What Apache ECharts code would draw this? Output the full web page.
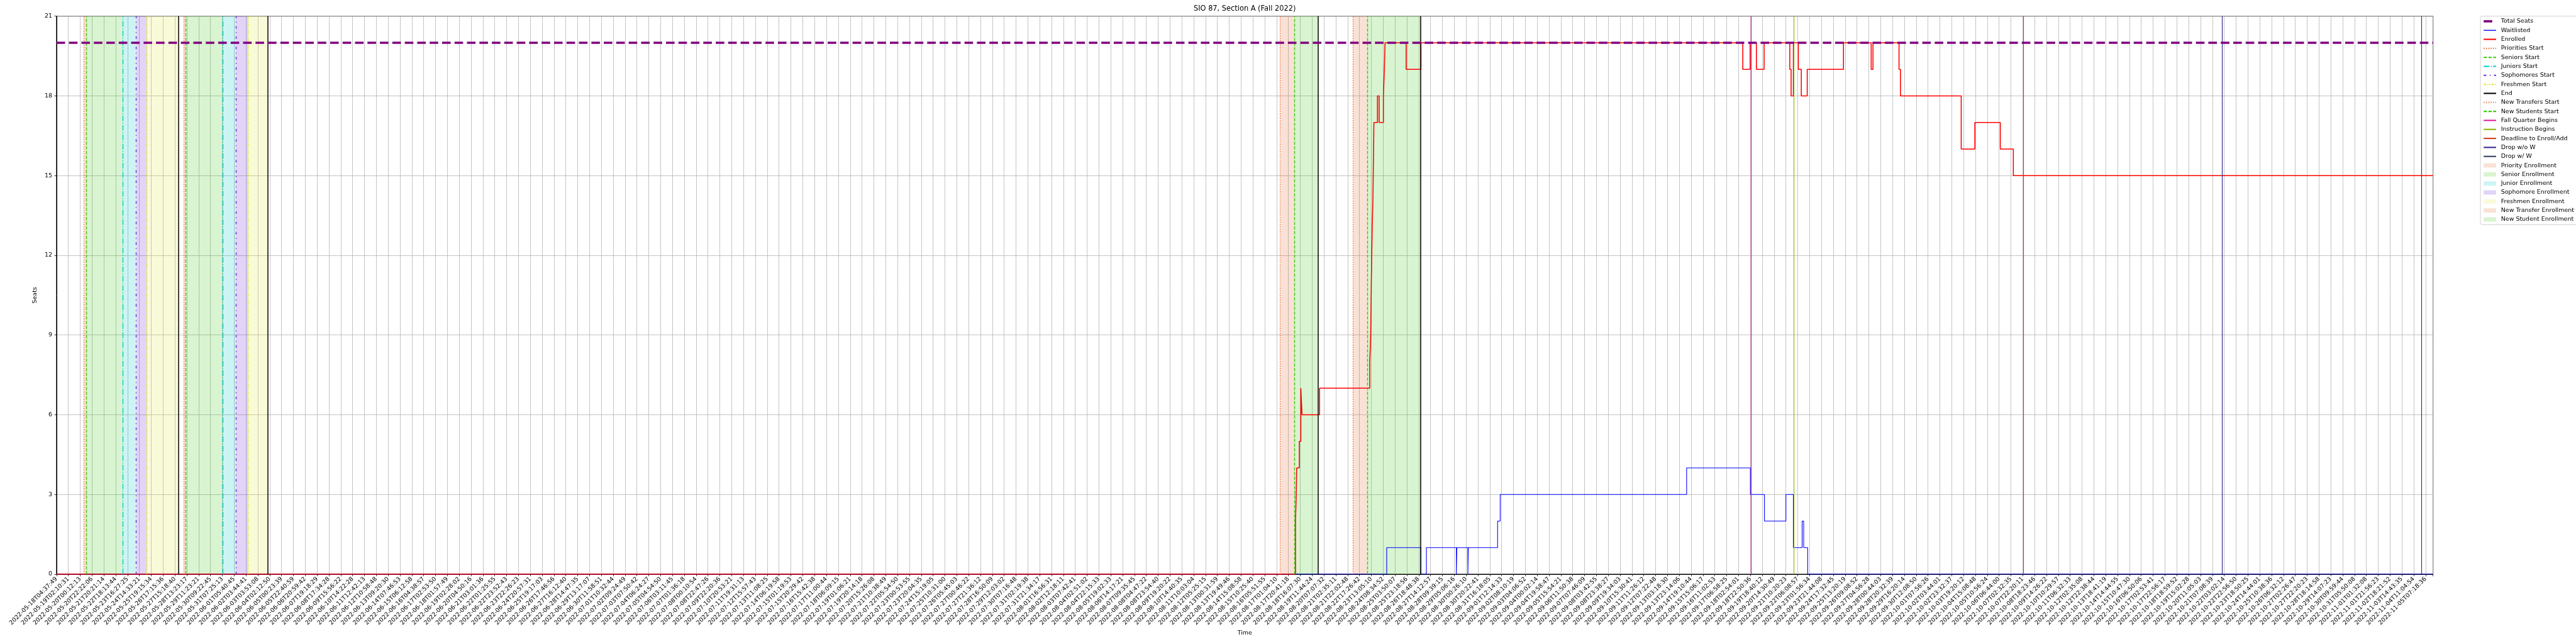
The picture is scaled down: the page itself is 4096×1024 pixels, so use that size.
<!DOCTYPE html>
<html><head><meta charset="utf-8">
<script src="https://cdn.jsdelivr.net/npm/echarts@6/dist/echarts.min.js"></script>
<style>html,body{margin:0;padding:0;background:#fff}#c{width:4096px;height:1024px}</style>
</head><body><div id="c"></div>
<script>
// ---------------- data ----------------
const tickLabels = [
"2022-05-18T04:37:49","2022-05-19T02:10:31","2022-05-20T00:12:13","2022-05-20T22:22:06","2022-05-21T20:21:14",
"2022-05-22T18:13:44","2022-05-23T16:27:25","2022-05-24T14:33:21","2022-05-25T19:15:34","2022-05-26T17:15:36",
"2022-05-27T15:18:40","2022-05-28T13:23:17","2022-05-29T11:23:21","2022-05-30T09:22:45","2022-05-31T07:25:13",
"2022-06-01T05:40:45","2022-06-02T03:44:41","2022-06-03T03:53:08","2022-06-04T02:12:50","2022-06-05T00:23:39",
"2022-06-05T22:40:59","2022-06-06T20:59:42","2022-06-07T19:18:29","2022-06-08T17:34:28","2022-06-09T15:56:22",
"2022-06-10T14:22:28","2022-06-11T12:42:13","2022-06-12T10:58:48","2022-06-13T09:20:30","2022-06-14T07:46:53",
"2022-06-15T06:12:58","2022-06-16T04:38:57","2022-06-17T02:53:50","2022-06-18T01:57:49","2022-06-19T02:28:02",
"2022-06-20T04:50:16","2022-06-21T03:01:36","2022-06-22T01:25:55","2022-06-22T23:52:43","2022-06-23T22:26:23",
"2022-06-24T20:57:31","2022-06-25T19:17:03","2022-06-26T17:46:56","2022-06-27T16:12:40","2022-06-28T14:47:35",
"2022-06-29T13:17:07","2022-06-30T11:58:51","2022-07-01T10:32:44","2022-07-02T09:24:49","2022-07-03T07:50:42",
"2022-07-04T06:24:27","2022-07-05T04:54:50","2022-07-06T03:11:45","2022-07-07T01:36:18","2022-07-08T00:10:54",
"2022-07-08T22:47:26","2022-07-09T22:20:36","2022-07-10T20:53:21","2022-07-11T19:31:13","2022-07-12T15:57:43",
"2022-07-13T11:08:25","2022-07-14T06:19:58","2022-07-15T01:19:53","2022-07-15T20:29:42","2022-07-16T15:42:38",
"2022-07-17T11:00:44","2022-07-18T06:09:15","2022-07-19T01:06:21","2022-07-19T20:14:18","2022-07-20T15:26:08",
"2022-07-21T10:38:49","2022-07-22T05:54:50","2022-07-23T00:53:55","2022-07-23T20:04:35","2022-07-24T15:19:05",
"2022-07-25T10:31:00","2022-07-26T05:45:03","2022-07-27T00:46:22","2022-07-27T21:36:12","2022-07-28T16:50:09",
"2022-07-29T12:03:02","2022-07-30T07:16:48","2022-07-31T02:19:38","2022-07-31T21:34:17","2022-08-01T16:56:31",
"2022-08-02T12:18:11","2022-08-03T07:42:41","2022-08-04T02:51:02","2022-08-04T22:15:33","2022-08-05T19:02:33",
"2022-08-06T14:17:21","2022-08-07T09:35:45","2022-08-08T04:47:22","2022-08-08T23:54:40","2022-08-09T19:20:22",
"2022-08-10T14:40:35","2022-08-11T10:03:04","2022-08-12T05:25:15","2022-08-13T00:31:59","2022-08-13T19:49:46",
"2022-08-14T15:08:58","2022-08-15T10:25:40","2022-08-16T05:51:55","2022-08-17T01:04:10","2022-08-17T20:41:18",
"2022-08-18T16:07:30","2022-08-19T11:44:24","2022-08-20T07:07:32","2022-08-21T02:35:11","2022-08-21T22:02:48",
"2022-08-22T17:26:42","2022-08-23T13:05:10","2022-08-24T08:34:52","2022-08-25T03:50:07","2022-08-25T23:18:56",
"2022-08-26T18:48:38","2022-08-27T14:12:57","2022-08-28T09:39:15","2022-08-29T05:06:16","2022-08-30T00:26:10",
"2022-08-30T20:22:41","2022-08-31T16:18:05","2022-09-01T12:14:33","2022-09-02T08:10:19","2022-09-03T04:06:52",
"2022-09-04T00:02:14","2022-09-04T19:58:47","2022-09-05T15:54:21","2022-09-06T11:50:38","2022-09-07T07:46:09",
"2022-09-08T03:42:55","2022-09-08T23:38:27","2022-09-09T19:34:03","2022-09-10T15:30:41","2022-09-11T11:26:12",
"2022-09-12T07:22:48","2022-09-13T03:18:30","2022-09-13T23:14:06","2022-09-14T19:10:44","2022-09-15T15:06:17",
"2022-09-16T11:02:53","2022-09-17T06:58:25","2022-09-18T02:54:01","2022-09-18T22:50:36","2022-09-19T18:40:12",
"2022-09-20T14:30:49","2022-09-21T10:20:23","2022-09-22T06:08:57","2022-09-23T01:56:34","2022-09-23T21:44:08",
"2022-09-24T17:32:45","2022-09-25T13:20:19","2022-09-26T09:08:52","2022-09-27T04:56:28","2022-09-28T00:44:03",
"2022-09-28T20:32:39","2022-09-29T16:20:14","2022-09-30T12:08:50","2022-10-01T07:56:26","2022-10-02T03:44:01",
"2022-10-02T23:32:37","2022-10-03T19:20:12","2022-10-04T15:08:48","2022-10-05T10:56:24","2022-10-06T06:44:00",
"2022-10-07T02:32:35","2022-10-07T22:20:11","2022-10-08T18:23:46","2022-10-09T14:26:22","2022-10-10T10:29:57",
"2022-10-11T06:32:33","2022-10-12T02:35:08","2022-10-12T22:38:44","2022-10-13T18:41:19","2022-10-14T14:44:55",
"2022-10-15T10:47:30","2022-10-16T06:50:06","2022-10-17T02:53:41","2022-10-17T22:56:17","2022-10-18T18:59:52",
"2022-10-19T15:02:28","2022-10-20T11:05:03","2022-10-21T07:08:39","2022-10-22T03:02:14","2022-10-22T22:56:50",
"2022-10-23T18:50:25","2022-10-24T14:44:01","2022-10-25T10:38:36","2022-10-26T06:32:12","2022-10-27T02:26:47",
"2022-10-27T22:20:23","2022-10-28T18:14:58",
"2022-10-29T14:07:23","2022-10-30T09:59:44","2022-10-31T05:50:08","2022-11-01T01:32:08","2022-11-01T21:56:23",
"2022-11-02T18:21:52","2022-11-03T14:43:35","2022-11-04T11:04:54","2022-11-05T07:18:36"
];
const xMax = 200.63;
const yTicks = [0, 3, 6, 9, 12, 15, 18, 21];
const totalSeats = 20;

const enrolledX = [0, 104.60, 104.66, 104.70, 104.92, 105.05, 105.15, 106.63, 110.87, 110.95, 111.00, 111.07, 111.13, 111.22, 111.52, 111.66, 112.02, 112.10, 112.16, 113.94, 115.19, 142.36, 142.98, 143.51, 144.16, 146.33, 146.44, 146.63, 147.05, 147.30, 147.80, 150.86, 153.20, 153.35, 155.55, 155.67, 160.80, 161.95, 164.10, 165.20, 200.63];
const enrolledV = [0, 2, 3, 4, 5, 7, 6, 7, 8, 9, 11, 13, 14, 17, 18, 17, 18, 19, 20, 19, 20, 19, 20, 19, 20, 19, 18, 20, 19, 18, 19, 20, 19, 20, 19, 18, 16, 17, 16, 15, 15];

const waitlistX = [0, 112.30, 115.19, 115.65, 118.18, 118.22, 119.15, 119.19, 121.66, 121.88, 137.62, 143.00, 144.19, 146.00, 146.63, 147.37, 147.50, 147.84, 200.63];
const waitlistV = [0, 1, 0, 1, 0, 1, 0, 1, 2, 3, 4, 3, 2, 3, 1, 2, 1, 0, 0];

const prioritiesStart = [2.31, 10.75];
const seniorsStart = [2.52, 10.92];
const juniorsStart = [5.61, 14.03];
const sophomoresStart = [6.73, 15.13];
const freshmenStart = [7.64, 16.18];
const endMarks = [10.30, 17.82, 106.50, 115.17];
const newTransfersStart = [103.30, 109.45];
const newStudentsStart = [104.51, 110.68];
const fallQuarterBegins = [143.05];
const instructionBegins = [146.68];
const deadlineEnrollAdd = [166.07];
const dropWithoutW = [182.83];
const dropWithW = [199.65];

// ---------------- styling ----------------
const S = 0.682;
const FONT = 'DejaVu Sans';
const px = v => v * S;
const chart = echarts.init(document.getElementById('c'), null, {renderer: 'canvas'});

const zip = (xs, vs) => xs.map((x, i) => [x, vs[i]]);
const lw = px(2.08);
const dotted = [px(2.1), px(3.4)];
const dashed = [px(7.7), px(3.3)];
const dashdot = [px(13.3), px(3.3), px(2.1), px(3.3)];
const sophDash = [px(6), px(8), px(2), px(8)];
const freshDash = [px(6), px(2.5), px(2), px(2.5), px(2), px(2.5)];

const eventDefs = [
  {name: 'Priorities Start', xs: prioritiesStart, color: '#f06830', type: dotted, width: lw},
  {name: 'Seniors Start', xs: seniorsStart, color: '#3ec914', type: dashed, width: lw},
  {name: 'Juniors Start', xs: juniorsStart, color: '#00ced1', type: dashdot, width: lw},
  {name: 'Sophomores Start', xs: sophomoresStart, color: '#6b2ad8', type: sophDash, width: lw},
  {name: 'Freshmen Start', xs: freshmenStart, color: '#e3e32b', type: freshDash, width: lw},
  {name: 'End', xs: endMarks, color: '#000000', type: 'solid', width: px(2.2)},
  {name: 'New Transfers Start', xs: newTransfersStart, color: '#f06830', type: dotted, width: lw},
  {name: 'New Students Start', xs: newStudentsStart, color: '#3ec914', type: dashed, width: lw},
  {name: 'Fall Quarter Begins', xs: fallQuarterBegins, color: '#e0169a', type: 'solid', width: px(1.7)},
  {name: 'Instruction Begins', xs: instructionBegins, color: '#8cb800', type: 'solid', width: px(1.7)},
  {name: 'Deadline to Enroll/Add', xs: deadlineEnrollAdd, color: '#d0401a', type: 'solid', width: px(1.7)},
  {name: 'Drop w/o W', xs: dropWithoutW, color: '#30288c', type: 'solid', width: px(1.7)},
  {name: 'Drop w/ W', xs: dropWithW, color: '#2e3b5e', type: 'solid', width: px(1.7)}
];

const pairs = (a, b) => a.map((x, i) => [x, b[i]]);
const bandDefs = [
  {name: 'Priority Enrollment', ranges: pairs(prioritiesStart, seniorsStart), color: 'rgba(230,105,50,0.2)'},
  {name: 'Senior Enrollment', ranges: pairs(seniorsStart, juniorsStart), color: 'rgba(62,201,20,0.2)'},
  {name: 'Junior Enrollment', ranges: pairs(juniorsStart, sophomoresStart), color: 'rgba(0,200,205,0.2)'},
  {name: 'Sophomore Enrollment', ranges: pairs(sophomoresStart, freshmenStart), color: 'rgba(107,42,216,0.2)'},
  {name: 'Freshmen Enrollment', ranges: pairs(freshmenStart, endMarks.slice(0, 2)), color: 'rgba(225,230,60,0.2)'},
  {name: 'New Transfer Enrollment', ranges: pairs(newTransfersStart, newStudentsStart), color: 'rgba(230,105,50,0.2)'},
  {name: 'New Student Enrollment', ranges: pairs(newStudentsStart, endMarks.slice(2, 4)), color: 'rgba(62,201,20,0.2)'}
];

const series = [
  {name: 'Total Seats', type: 'line', data: [[0, totalSeats], [xMax, totalSeats]], symbol: 'none', silent: true,
   color: '#800080', lineStyle: {color: '#800080', width: px(5.3), type: [px(20), px(9)]}, z: 6},
  {name: 'Waitlisted', type: 'line', step: 'end', data: zip(waitlistX, waitlistV), symbol: 'none', silent: true,
   color: '#0000ff', lineStyle: {color: '#0000ff', width: px(1.6)}, z: 3},
  {name: 'Enrolled', type: 'line', step: 'end', data: zip(enrolledX, enrolledV), symbol: 'none', silent: true,
   color: '#ff0000', lineStyle: {color: '#ff0000', width: px(2.3)}, z: 4}
];
eventDefs.forEach(e => series.push({
  name: e.name, type: 'line', data: [], symbol: 'none', silent: true, color: e.color,
  lineStyle: {color: e.color, width: e.width, type: e.type},
  markLine: {silent: true, symbol: ['none', 'none'], animation: false, label: {show: false},
    lineStyle: {color: e.color, width: e.width, type: e.type, opacity: 1},
    emphasis: {disabled: true},
    data: e.xs.map(x => ({xAxis: x}))}
}));
bandDefs.forEach(b => series.push({
  name: b.name, type: 'scatter', data: [], silent: true, color: b.color, itemStyle: {color: b.color},
  markArea: {silent: true, animation: false, itemStyle: {color: b.color}, emphasis: {disabled: true},
    data: b.ranges.map(r => [{xAxis: r[0]}, {xAxis: r[1]}])}
}));

const legendData = [
  {name: 'Total Seats', lineStyle: {color: '#800080', width: px(5.3), type: [px(20), px(9)]}, itemStyle: {opacity: 0}},
  {name: 'Waitlisted', lineStyle: {color: '#0000ff', width: px(2)}, itemStyle: {opacity: 0}},
  {name: 'Enrolled', lineStyle: {color: '#ff0000', width: px(3)}, itemStyle: {opacity: 0}}
].concat(eventDefs.map(e => ({name: e.name, lineStyle: {color: e.color, width: px(3), type: e.type}, itemStyle: {opacity: 0}})))
 .concat(bandDefs.map(b => ({name: b.name, icon: 'rect', itemStyle: {color: b.color, opacity: 1}})));

const option = {
  animation: false,
  backgroundColor: '#ffffff',
  textStyle: {fontFamily: FONT},
  title: {
    text: 'SIO 87, Section A (Fall 2022)', left: px(2902), top: px(12), padding: 0, textAlign: 'center',
    textStyle: {fontFamily: FONT, fontSize: px(16.7), fontWeight: 'normal', color: '#000'}
  },
  legend: {
    orient: 'vertical', left: px(5783), top: px(37.7), padding: [px(5), px(10), px(5), px(5)],
    itemWidth: px(29), itemHeight: px(10), itemGap: px(7),
    borderColor: '#d0d0d0', borderWidth: 1, borderRadius: 3, backgroundColor: 'rgba(255,255,255,0.8)',
    textStyle: {fontFamily: FONT, fontSize: px(13.9), color: '#000', lineHeight: px(14), padding: [0, 0, 0, px(4)]},
    selectedMode: false,
    data: legendData
  },
  grid: {left: px(131.7), top: px(37.7), width: px(5672.5 - 131.7), height: px(1338.7 - 37.7),
    show: true, borderColor: '#000', borderWidth: 1, backgroundColor: 'transparent'},
  xAxis: {
    type: 'value', min: 0, max: xMax, interval: 1,
    name: 'Time', nameLocation: 'middle', nameGap: px(130),
    nameTextStyle: {fontFamily: FONT, fontSize: px(13.9), color: '#000'},
    axisLine: {onZero: false, lineStyle: {color: '#000', width: 1}},
    axisTick: {length: px(4.9), lineStyle: {color: '#000', width: 0.8}},
    splitLine: {show: true, lineStyle: {color: '#b0b0b0', width: px(1.1)}},
    axisLabel: {rotate: 45, fontFamily: FONT, fontSize: px(13.9), color: '#000', margin: px(9),
      formatter: v => (Number.isInteger(v) && tickLabels[v]) ? tickLabels[v] : ''}
  },
  yAxis: {
    type: 'value', min: yTicks[0], max: yTicks[yTicks.length - 1], interval: 3,
    name: 'Seats', nameLocation: 'middle', nameGap: px(34), nameRotate: 90,
    nameTextStyle: {fontFamily: FONT, fontSize: px(13.9), color: '#000'},
    axisLine: {show: true, onZero: false, lineStyle: {color: '#000', width: 1}},
    axisTick: {show: true, length: px(4.9), lineStyle: {color: '#000', width: 0.8}},
    splitLine: {show: true, lineStyle: {color: '#b0b0b0', width: px(1.1)}},
    axisLabel: {fontFamily: FONT, fontSize: px(13.9), color: '#000', margin: px(10)}
  },
  series: series
};
chart.setOption(option);
</script>
</body></html>
